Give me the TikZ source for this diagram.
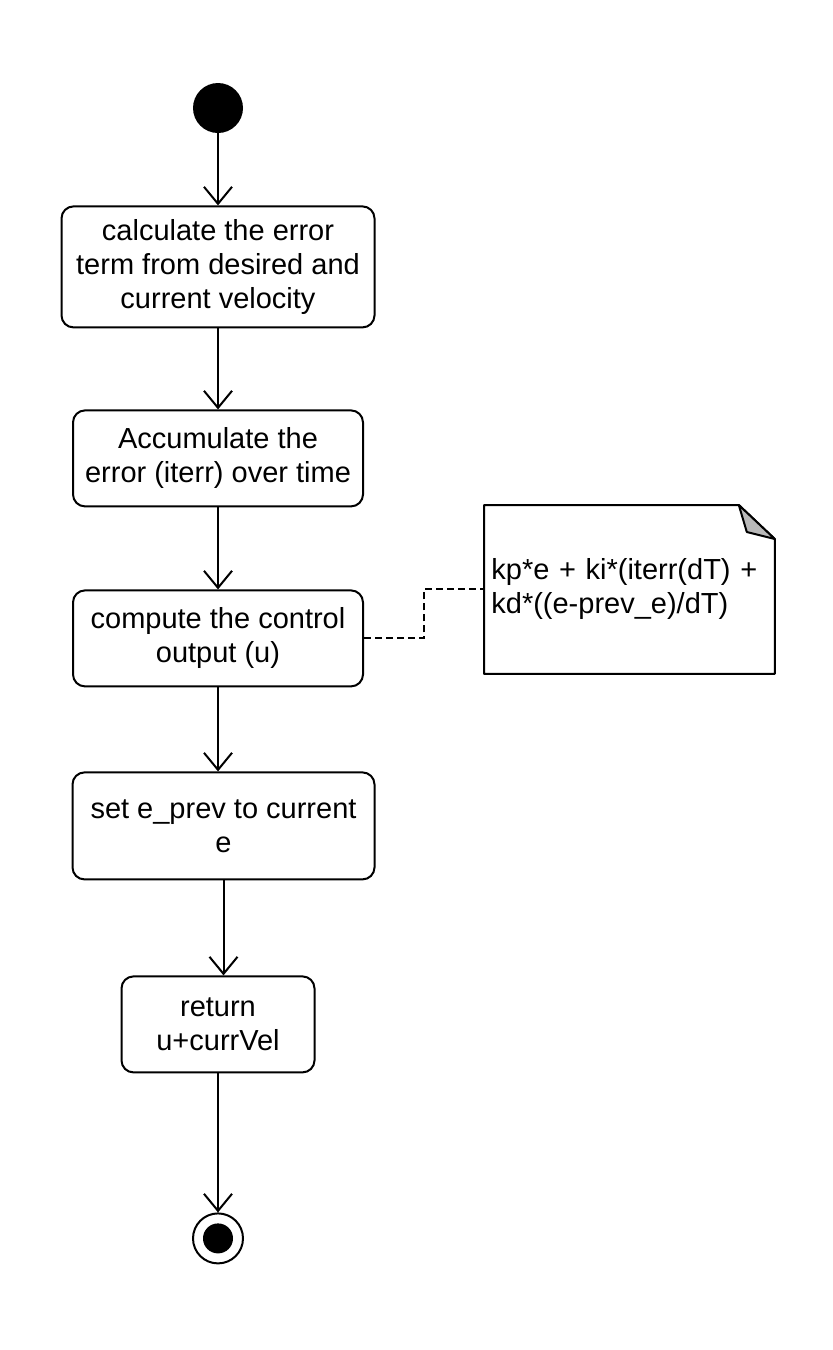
\documentclass[tikz,border=0pt]{standalone}
\usepackage{fontspec}
\setmainfont{Liberation Sans}
\usetikzlibrary{positioning,arrows.meta}
\tikzset{action/.style={draw,rounded corners=6pt,line width=1pt,align=center,inner sep=2pt},
  initial/.style={circle,fill,minimum size=25pt,inner sep=0pt},
  final/.style={circle,draw,line width=1pt,minimum size=25pt,inner sep=0pt,path picture={\fill (path picture bounding box.center) circle (7.5pt);}},
  flow/.style={-{Straight Barb[length=8.5pt,width=14pt]},line width=1pt}}

\begin{document}
\begin{tikzpicture}[font=\fontsize{14.5}{17}\selectfont]
          \useasboundingbox (0,0) rectangle (416.5pt,-675pt);

          % the actions
          \node (start) [initial] at (109pt,-54pt) {};
          \node (err) [action,minimum width=156.5pt,minimum height=60.5pt,below=36pt of start] {calculate the error\\term from desired and\\current velocity};
          \node (acc) [action,minimum width=145pt,minimum height=48pt,below=40.5pt of err] {Accumulate the\\error (iterr) over time};
          \node (ctrl) [action,minimum width=145pt,minimum height=48pt,below=41pt of acc] {compute the control\\output (u)};
          \node (prev) [action,minimum width=151pt,minimum height=53.5pt,below=42pt of ctrl,xshift=2.75pt] {set e\_prev to current\\e};
          \node (ret) [action,minimum width=96.5pt,minimum height=48pt,below=47.5pt of prev,xshift=-2.75pt] {return\\u+currVel};
          \node (stop) [final,below=69.5pt of ret] {};

          % note
          \node (note) [minimum width=145pt,minimum height=84pt,text width=138pt,align=left,inner sep=3.5pt,right=60pt of ctrl,yshift=24.5pt] {kp*e + ki*(iterr(dT) +\\kd*((e-prev\_e)/dT)};
          \draw[line width=1pt,line join=round] (note.north west) -- ([xshift=-18pt]note.north east) -- ([yshift=-17pt]note.north east) -- (note.south east) -- (note.south west) -- cycle;
          \filldraw[fill=gray!55,line width=1pt,line join=round] ([xshift=-18pt]note.north east) -- ([xshift=-14pt,yshift=-13.5pt]note.north east) -- ([yshift=-17pt]note.north east) -- cycle;
          \draw[dashed,dash pattern=on 3.5pt off 2pt,line width=1pt] (ctrl.east) -- ++(30pt,0) |- (note.west);

          % arrows
          \draw[flow] (start) -- (err);
          \draw[flow] (err) -- (acc);
          \draw[flow] (acc) -- (ctrl);
          \draw[flow] (ctrl) -- (ctrl.south |- prev.north);
          \draw[flow] (prev) -- (prev.south |- ret.north);
          \draw[flow] (ret) -- (stop);

        \end{tikzpicture}
\end{document}
